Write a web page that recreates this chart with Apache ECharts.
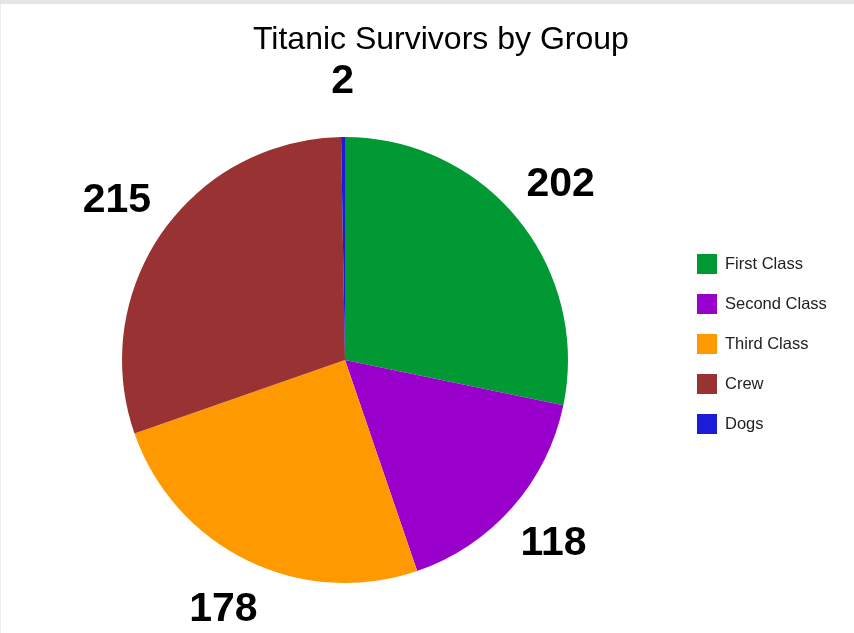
<!DOCTYPE html>
<html>
<head>
<meta charset="utf-8">
<title>Titanic Survivors by Group</title>
<script src="https://cdn.jsdelivr.net/npm/echarts@6/dist/echarts.min.js"></script>
<style>
  html, body { margin: 0; padding: 0; background: #fff; }
  #chart { width: 854px; height: 633px; }
  #topbar { position: absolute; left: 0; top: 0; width: 854px; height: 4px; background: #e5e5e5; }
  #leftbar { position: absolute; left: 0; top: 4px; width: 1px; height: 629px; background: #eeeeee; }
</style>
</head>
<body>
<div id="chart"></div>
<div id="topbar"></div>
<div id="leftbar"></div>
<script>
const groups = ['First Class', 'Second Class', 'Third Class', 'Crew', 'Dogs']
const survivors = [202, 118, 178, 215, 2]
const colors = ['#009933', '#9900cc', '#ff9900', '#993333', '#1c1cd8']

const pieData = groups.map((name, i) => ({
  name: name,
  value: survivors[i],
  itemStyle: { color: colors[i] }
}))

const chart = echarts.init(document.getElementById('chart'))
chart.setOption({
  animation: false,
  title: {
    text: 'Titanic Survivors by Group',
    left: 248,
    top: 19,
    textStyle: {
      fontFamily: 'Liberation Sans, Arial, sans-serif',
      fontSize: 32,
      fontWeight: 'normal',
      color: '#000'
    }
  },
  legend: {
    orient: 'vertical',
    left: 692,
    top: 249,
    itemWidth: 20,
    itemHeight: 20,
    itemGap: 20,
    icon: 'rect',
    data: groups,
    textStyle: {
      fontFamily: 'Liberation Sans, Arial, sans-serif',
      fontSize: 16.5,
      color: '#222',
      padding: [14, 0, 0, 3]
    }
  },
  series: [
    {
      // the pie itself
      name: 'Survivors',
      type: 'pie',
      center: [345, 360],
      radius: 223,
      startAngle: 90,
      clockwise: true,
      itemStyle: { borderWidth: 0 },
      label: { show: false },
      labelLine: { show: false },
      emphasis: { disabled: true },
      data: pieData
    },
    {
      // invisible ring that only carries the value labels
      name: 'Labels',
      type: 'pie',
      center: [345, 360],
      radius: [260, 290],
      startAngle: 90,
      clockwise: true,
      silent: true,
      itemStyle: { color: 'rgba(0,0,0,0)', borderWidth: 0 },
      label: {
        show: true,
        position: 'inside',
        formatter: '{c}',
        fontFamily: 'Liberation Sans, Arial, sans-serif',
        fontSize: 41,
        fontWeight: 'bold',
        color: '#000'
      },
      labelLine: { show: false },
      emphasis: { disabled: true },
      data: groups.map((name, i) => ({ name: name, value: survivors[i] }))
    }
  ]
})
</script>
</body>
</html>
